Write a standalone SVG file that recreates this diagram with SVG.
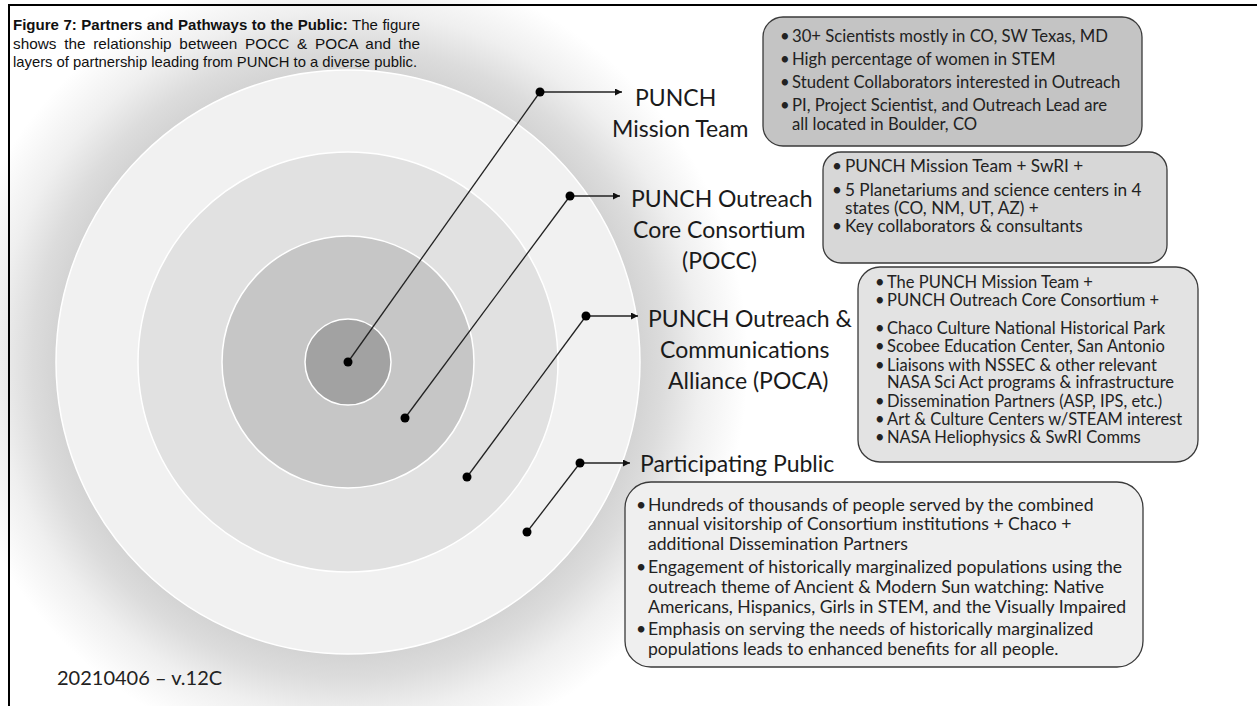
<svg xmlns="http://www.w3.org/2000/svg" width="1257" height="706" viewBox="0 0 1257 706">
<style>
.title{font-family:"Liberation Sans",Arial,sans-serif;font-size:15px;fill:#111}
.lbl{font-family:Lato,"Open Sans",sans-serif;font-size:23px;fill:#1a1a1a}
.bx{font-family:Lato,"Open Sans",sans-serif;fill:#222}
.box{stroke:#3a3a3a;stroke-width:1.3}
.conn line{stroke:#222;stroke-width:1.3}
.conn circle{fill:#000}
.ring{stroke:#fff;stroke-width:1.5}
</style>
<defs>
<radialGradient id="glow" cx="348" cy="362" r="400" gradientUnits="userSpaceOnUse">
<stop offset="0.72" stop-color="#d2d2d2"/>
<stop offset="0.79" stop-color="#dcdcdc"/>
<stop offset="0.88" stop-color="#efefef"/>
<stop offset="1" stop-color="#ffffff"/>
</radialGradient>
<marker id="ah" viewBox="0 0 10 10" refX="10" refY="5" markerWidth="7" markerHeight="7" markerUnits="userSpaceOnUse" orient="auto">
<path d="M0,0 L10,5 L0,10 z" fill="#111"/>
</marker>
</defs>
<rect width="1257" height="706" fill="#fff"/>
<circle cx="348" cy="362" r="400" fill="url(#glow)"/>
<g id="rings">
<circle class="ring" cx="348" cy="362" r="292" fill="#f1f1f1"/>
<circle class="ring" cx="348" cy="362" r="210" fill="#e1e1e1"/>
<circle class="ring" cx="348" cy="362" r="126" fill="#c6c6c6"/>
<circle class="ring" cx="348" cy="362" r="43" fill="#a2a2a2"/>
</g>
<path d="M1257,5 H9 V706" fill="none" stroke="#000" stroke-width="2"/>
<g id="title">
<text class="title" x="13" y="30" word-spacing="0.4" textLength="407" lengthAdjust="spacingAndGlyphs"><tspan font-weight="bold">Figure 7: Partners and Pathways to the Public:</tspan> The figure</text>
<text class="title" x="13" y="49" word-spacing="3.4" textLength="407" lengthAdjust="spacingAndGlyphs">shows the relationship between POCC &amp; POCA and the</text>
<text class="title" x="13" y="67" textLength="404" lengthAdjust="spacingAndGlyphs">layers of partnership leading from PUNCH to a diverse public.</text>
</g>
<g id="connectors" class="conn">
<line x1="348" y1="362" x2="540" y2="92"/>
<line x1="540" y1="92" x2="622" y2="92" marker-end="url(#ah)"/>
<circle cx="348" cy="362" r="4.5"/><circle cx="540" cy="92" r="4.5"/>
<line x1="405" y1="418" x2="570" y2="196"/>
<line x1="570" y1="196" x2="620" y2="196" marker-end="url(#ah)"/>
<circle cx="405" cy="418" r="4.5"/><circle cx="570" cy="196" r="4.5"/>
<line x1="467" y1="477" x2="586" y2="316"/>
<line x1="586" y1="316" x2="638" y2="316" marker-end="url(#ah)"/>
<circle cx="467" cy="477" r="4.5"/><circle cx="586" cy="316" r="4.5"/>
<line x1="527" y1="532" x2="580" y2="463"/>
<line x1="580" y1="463" x2="630" y2="463" marker-end="url(#ah)"/>
<circle cx="527" cy="532" r="4.5"/><circle cx="580" cy="463" r="4.5"/>
</g>
<g id="mission">
<text class="lbl" x="635" y="106">PUNCH</text>
<text class="lbl" x="612" y="137">Mission Team</text>
<rect class="box" x="763" y="17" width="379" height="129" rx="20" fill="#c4c4c4"/>
<g class="bx" font-size="16.7">
<text x="780" y="42">•</text><text x="792" y="42">30+ Scientists mostly in CO, SW Texas, MD</text>
<text x="780" y="65">•</text><text x="792" y="65">High percentage of women in STEM</text>
<text x="780" y="88">•</text><text x="792" y="88">Student Collaborators interested in Outreach</text>
<text x="780" y="111">•</text><text x="792" y="111">PI, Project Scientist, and Outreach Lead are</text>
<text x="792" y="130">all located in Boulder, CO</text>
</g>
</g>
<g id="pocc">
<text class="lbl" x="631" y="207">PUNCH Outreach</text>
<text class="lbl" x="633" y="238">Core Consortium</text>
<text class="lbl" x="682" y="269">(POCC)</text>
<rect class="box" x="823" y="152" width="344" height="111" rx="18" fill="#d7d7d7"/>
<g class="bx" font-size="17.2">
<text x="832" y="172">•</text><text x="845" y="172">PUNCH Mission Team + SwRI +</text>
<text x="832" y="196">•</text><text x="845" y="196">5 Planetariums and science centers in 4</text>
<text x="845" y="214">states (CO, NM, UT, AZ) +</text>
<text x="832" y="232">•</text><text x="845" y="232">Key collaborators &amp; consultants</text>
</g>
</g>
<g id="poca">
<text class="lbl" x="648" y="327">PUNCH Outreach &amp;</text>
<text class="lbl" x="660" y="358">Communications</text>
<text class="lbl" x="668" y="389">Alliance (POCA)</text>
<rect class="box" x="858" y="267" width="340" height="195" rx="22" fill="#e3e3e3"/>
<g class="bx" font-size="16.5">
<text x="875" y="288">•</text><text x="887" y="288">The PUNCH Mission Team +</text>
<text x="875" y="306">•</text><text x="887" y="306">PUNCH Outreach Core Consortium +</text>
<text x="875" y="334">•</text><text x="887" y="334">Chaco Culture National Historical Park</text>
<text x="875" y="352">•</text><text x="887" y="352">Scobee Education Center, San Antonio</text>
<text x="875" y="371">•</text><text x="887" y="371">Liaisons with NSSEC &amp; other relevant</text>
<text x="887" y="388">NASA Sci Act programs &amp; infrastructure</text>
<text x="875" y="407">•</text><text x="887" y="407">Dissemination Partners (ASP, IPS, etc.)</text>
<text x="875" y="425">•</text><text x="887" y="425">Art &amp; Culture Centers w/STEAM interest</text>
<text x="875" y="443">•</text><text x="887" y="443">NASA Heliophysics &amp; SwRI Comms</text>
</g>
</g>
<g id="public">
<text class="lbl" x="640" y="472">Participating Public</text>
<rect class="box" x="625" y="482" width="518" height="185" rx="26" fill="#efefef"/>
<g class="bx" font-size="17.6">
<text x="636" y="511">•</text><text x="648" y="511">Hundreds of thousands of people served by the combined</text>
<text x="648" y="530">annual visitorship of Consortium institutions + Chaco +</text>
<text x="648" y="550">additional Dissemination Partners</text>
<text x="636" y="573">•</text><text x="648" y="573">Engagement of historically marginalized populations using the</text>
<text x="648" y="593">outreach theme of Ancient &amp; Modern Sun watching: Native</text>
<text x="648" y="613">Americans, Hispanics, Girls in STEM, and the Visually Impaired</text>
<text x="636" y="635">•</text><text x="648" y="635">Emphasis on serving the needs of historically marginalized</text>
<text x="648" y="655">populations leads to enhanced benefits for all people.</text>
</g>
</g>
<text id="version" x="57" y="685" style="font-family:Lato,'Open Sans',sans-serif;font-size:20px;fill:#222">20210406 – v.12C</text>
</svg>
